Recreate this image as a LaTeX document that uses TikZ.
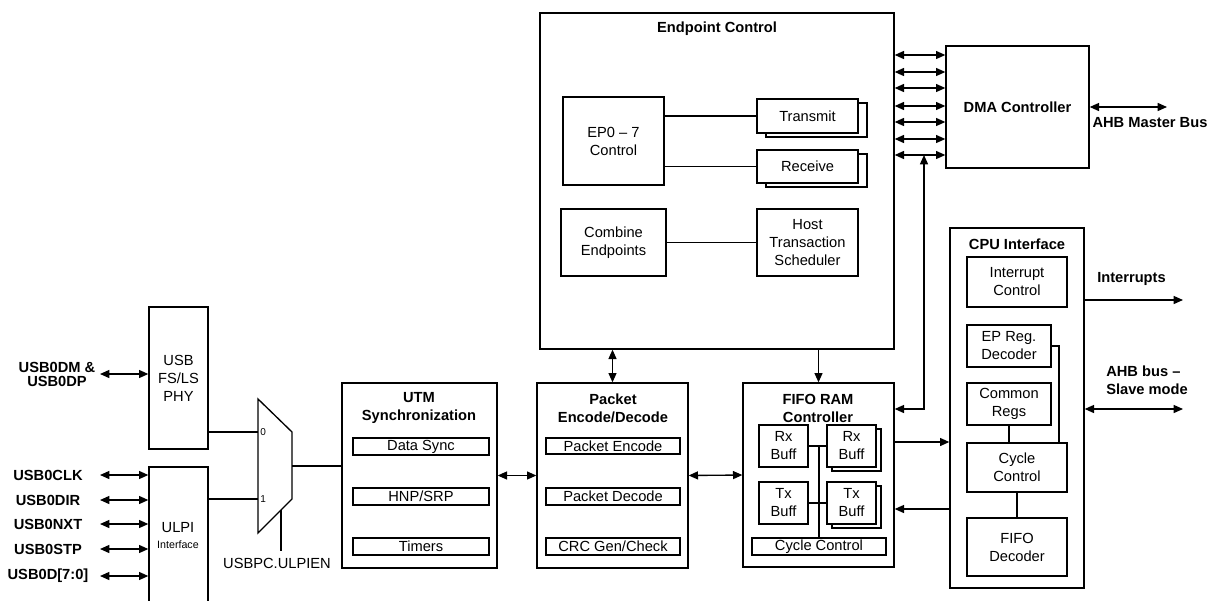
\documentclass[tikz,border=0pt]{standalone}
\usepackage{fontspec}
\setmainfont{Liberation Sans}
\usetikzlibrary{arrows.meta,fit,shadows}
\newcommand{\mybox}[5][]{\node[box,#1,fit={(#3) (#4)}] (#2) {};
  \node[nt] (#2-t) at (#2.center) {#5};}
\newcommand{\myboxb}[5][]{\node[box,#1,fit={(#3) (#4)}] (#2) {};
  \node[bt] (#2-t) at (#2.center) {#5};}
\begin{document}
\begin{tikzpicture}[x=0.75pt,y=-0.75pt,
  >={Triangle[length=7pt,width=6pt]},
  box/.style={draw,line width=1pt,inner sep=0pt,fill=white},
  con/.style={line width=1pt},
  bt/.style={font=\bfseries\fontsize{11}{13.5}\selectfont,align=center,inner sep=0pt},
  nt/.style={font=\fontsize{11}{13.5}\selectfont,align=center,inner sep=0pt},
  shad/.style={copy shadow={shadow xshift=#1,shadow yshift=-3pt}},
]
\clip (0,0) rectangle (1209,600);

% ---------- Endpoint Control ----------
\mybox{ep}{540,13}{894,349}{}
\node[bt] (eptitle) at (717,29) {Endpoint Control};
\mybox{epc}{563,97}{664,185}{EP0 – 7\\Control}
\mybox[shad=6.75pt]{tx}{757,99}{858,133}{Transmit}
\mybox[shad=6.75pt]{rx}{757,150}{858,183}{Receive}
\mybox{cmb}{561,209}{666,276}{Combine\\Endpoints}
\mybox{hts}{757,209}{858,276}{Host\\Transaction\\Scheduler}
\draw[con] (epc.east |- tx.west) -- (tx.west);
\draw[con] (epc.east |- rx.west) -- (rx.west);
\draw[con] (cmb.east) -- (hts.west);

% ---------- DMA ----------
\myboxb{dma}{946,46}{1089,168}{DMA Controller}
\foreach \yy in {55,72,88,106,122,139,155}{
  \coordinate (a\yy) at (0,\yy);
  \draw[con,<->] (ep.east |- a\yy) -- (dma.west |- a\yy);
}
\coordinate (ahbm) at (1167,107);
\draw[con,<->] (dma.east) -- (ahbm);
\node[bt] (ahbmt) at (1150,123) {AHB Master Bus};

% ---------- CPU Interface ----------
\mybox{cpu}{950,228}{1084,588}{}
\node[bt] (cputitle) at (1017,244) {CPU Interface};
\mybox{ic}{967,257}{1067,307}{Interrupt\\Control}
\mybox{epr}{967,325}{1051,367}{EP Reg.\\Decoder}
\mybox{cr}{967,383}{1051,425}{Common\\Regs}
\mybox{cyc}{967,443}{1067,492}{Cycle\\Control}
\mybox{fd}{967,518}{1067,576}{FIFO\\Decoder}
\draw[con] (cr.south) -- (cr.south |- cyc.north);
\coordinate (eprr) at (1059,0);
\draw[con] (epr.east) -| (eprr |- cyc.north);
\draw[con] (cyc.south) -- (fd.north);

\coordinate (intr) at (1183,300);
\draw[con,->] (cpu.east |- intr) -- (intr);
\node[bt,anchor=west] (intt) at (1097,279) {Interrupts};
\coordinate (ahbs) at (1183,409);
\draw[con,<->] (cpu.east |- ahbs) -- (ahbs);
\node[bt,anchor=west,align=left] (ahbst) at (1106,380) {AHB bus –\\Slave mode};

% ---------- FIFO RAM Controller ----------
\mybox{fifo}{743,383}{894,567}{}
\node[bt] (fifot) at (818,408) {FIFO RAM\\Controller};
\mybox{rxl}{759,425}{808,467}{Rx\\Buff}
\mybox[shad=3.75pt]{rxr}{827,425}{876,467}{Rx\\Buff}
\mybox{txl}{759,482}{808,524}{Tx\\Buff}
\mybox[shad=3.75pt]{txr}{827,482}{876,524}{Tx\\Buff}
\mybox{fcc}{752,538}{886,555}{Cycle Control}
\draw[con] (rxl.east) -- (rxr.west);
\draw[con] (txl.east) -- (txr.west);
\draw[con] (fcc.north) -- (fcc.north |- rxl.east);

\coordinate (f1) at (0,442);
\draw[con,->] (fifo.east |- f1) -- (cpu.west |- f1);
\coordinate (f2) at (0,509);
\draw[con,->] (cpu.west |- f2) -- (fifo.east |- f2);
\coordinate (jn) at (924,155);
\coordinate (jc) at (924,409);
\draw[con,<->] (jn) -- (jc) -- (jc -| fifo.east);

% ---------- Packet Encode/Decode ----------
\mybox{pkt}{537,383}{688,568}{}
\node[bt] (pktt) at (613,408) {Packet\\Encode/Decode};
\mybox{pe}{546,438}{680,454}{Packet Encode}
\mybox{pd}{546,488}{680,505}{Packet Decode}
\mybox{crc}{546,538}{680,555}{CRC Gen/Check}

% ---------- UTM ----------
\mybox{utm}{342,383}{497,568}{}
\node[bt] (utmt) at (419,408) {UTM\\Synchronization};
\mybox{ds}{353,438}{489,455}{Data Sync}
\mybox{hnp}{353,488}{489,505}{HNP/SRP}
\mybox{tim}{353,538}{489,555}{Timers}

\draw[con,<->] (utm.east) -- (pkt.west);
\draw[con,<->] (pkt.east) -- (fifo.west);
\draw[con,<->] (ep.south -| pkt.north) -- (pkt.north);
\draw[con,->] (ep.south -| fifo.north) -- (fifo.north);

% ---------- PHY / ULPI / Mux ----------
\mybox{phy}{149,307}{208,449}{USB\\FS/LS\\PHY}
\mybox{ulpi}{149,467}{208,615}{}
\node[nt] (ulpit) at (178,528) {ULPI};
\node[font=\fontsize{8}{9}\selectfont,inner sep=0pt] (ulpis) at (178,545) {Interface};

\coordinate (mt) at (258,399);
\coordinate (m0) at (258,432);
\coordinate (m1) at (258,499);
\coordinate (mb) at (258,533);
\coordinate (mo) at (292,466);
\draw[line width=1pt] (mt) -- (292,432) -- (292,499) -- (mb) -- cycle;
\node[font=\fontsize{7.5}{8}\selectfont,anchor=west,inner sep=0pt] (l0) at (260,432) {0};
\node[font=\fontsize{7.5}{8}\selectfont,anchor=west,inner sep=0pt] (l1) at (260,499) {1};
\draw[con] (phy.east |- m0) -- (m0);
\draw[con] (ulpi.east |- m1) -- (m1);
\draw[con] (mo) -- (utm.west |- mo);
\coordinate (ms) at (281,510);
\coordinate (mse) at (281,551);
\draw[con] (ms) -- (mse);
\node[nt] (sel) at (277,563) {USBPC.ULPIEN};

\node[font=\bfseries\fontsize{11}{10.5}\selectfont,align=center,inner sep=0pt] (dmdp) at (57,374) {USB0DM \&\\USB0DP};
\coordinate (s0) at (100,374);
\draw[con,<->] (s0) -- (s0 -| phy.west);

\foreach \yy/\txt in {475/USB0CLK,500/USB0DIR,524/USB0NXT,549/USB0STP,576/{USB0D[7:0]}}{
  \node[bt] (sig\yy) at (48,\yy) {\txt};
  \coordinate (sa\yy) at (100,\yy);
  \draw[con,<->] (sa\yy) -- (sa\yy -| ulpi.west);
}
\end{tikzpicture}
\end{document}
